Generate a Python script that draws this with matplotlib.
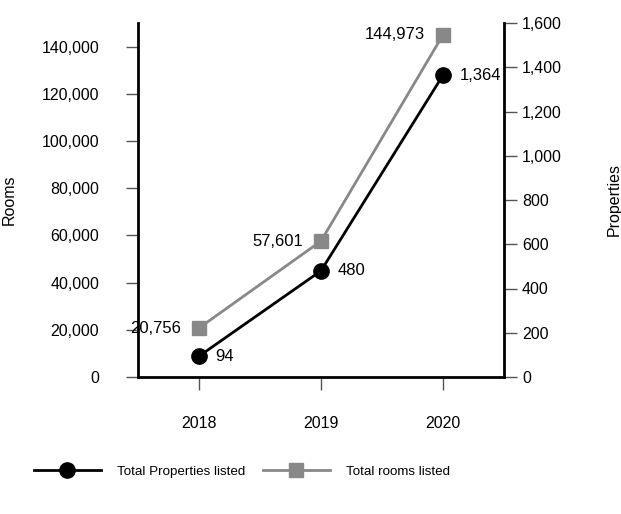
import matplotlib.pyplot as plt
from matplotlib.ticker import FuncFormatter
import matplotlib
matplotlib.rcParams.update({'font.size': 11.5, 'font.family': ['Liberation Sans', 'DejaVu Sans']})

years = ['2018', '2019', '2020']
properties = [94, 480, 1364]
rooms = [20756, 57601, 144973]

fig = plt.figure(figsize=(6.21, 5.14), dpi=100)
ax = fig.add_axes([138/621, 1 - 377/514, (504-138)/621, (377-23)/514])
ax2 = ax.twinx()

x = list(range(len(years)))
comma = FuncFormatter(lambda v, p: f'{v:,.0f}')

l2, = ax.plot(x, rooms, color='#888888', lw=2, marker='s', ms=10, label='Total rooms listed')
l1, = ax2.plot(x, properties, color='black', lw=2, marker='o', ms=11, label='Total Properties listed')

for xi, v in zip(x, rooms):
    ax.annotate(f'{v:,}', (xi, v), xytext=(-13, 0), textcoords='offset points',
                ha='right', va='center', fontsize=12)
for xi, v in zip(x, properties):
    ax2.annotate(f'{v:,}', (xi, v), xytext=(12, 0), textcoords='offset points',
                 ha='left', va='center', fontsize=12)

ax.set_xlim(-0.5, 2.5)
ax.set_ylim(0, 150000)
ax2.set_ylim(0, 1600)
ax.set_yticks(range(0, 140001, 20000))
ax2.set_yticks(range(0, 1601, 200))
ax.yaxis.set_major_formatter(comma)
ax2.yaxis.set_major_formatter(comma)
ax.set_xticks(x)
ax.set_xticklabels(years)

for a in (ax, ax2):
    a.spines['top'].set_visible(False)
    for s in a.spines.values():
        s.set_linewidth(2)
ax.spines['right'].set_visible(False)
ax2.spines['left'].set_visible(False)
ax2.spines['bottom'].set_visible(False)

ax.tick_params(axis='y', length=9, width=1, color='#555555', pad=19)
ax.tick_params(axis='x', length=9, width=1, color='#555555', pad=19)
ax2.tick_params(axis='y', length=9, width=1, color='#555555', pad=4)

fig.text(9/621, 1 - 200/514, 'Rooms', rotation=90, ha='center', va='center')
fig.text(614/621, 1 - 200/514, 'Properties', rotation=90, ha='center', va='center')

fig.legend(handles=[l1, l2], loc='center left', bbox_to_anchor=(34/621, 1 - 472/514),
           ncol=2, frameon=False, borderpad=0, borderaxespad=0, fontsize=9.6,
           handlelength=5.0, columnspacing=1.35, handletextpad=1.2)

fig.savefig('out.png', dpi=100)
